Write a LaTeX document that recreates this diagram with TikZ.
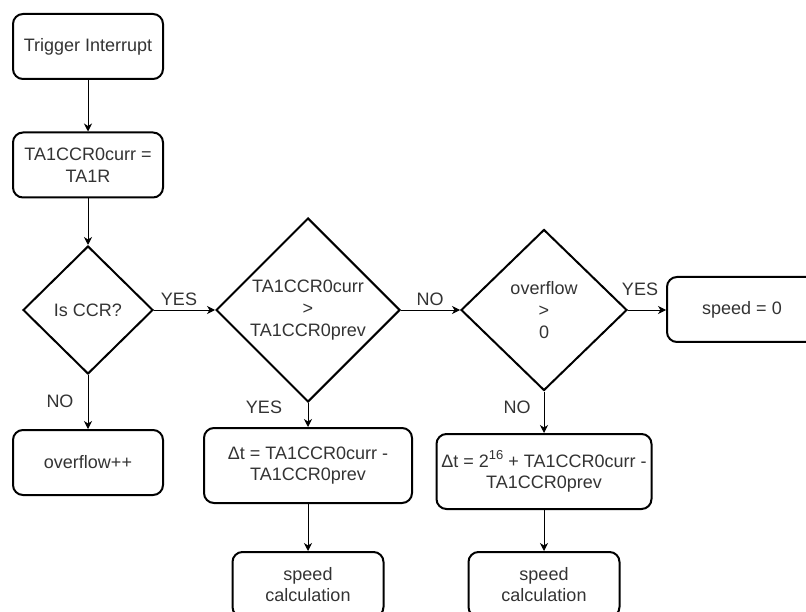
\documentclass[tikz,border=0pt]{standalone}
\usepackage{fontspec}
\setmainfont{Liberation Sans}
\usetikzlibrary{shapes.geometric,arrows.meta}
\definecolor{txt}{HTML}{333333}
\newcommand{\supnum}[1]{\raisebox{0.42em}{\fontsize{13}{13}\selectfont #1}}
\begin{document}
\begin{tikzpicture}[x=1pt,y=-1pt,
  font=\fontsize{18}{21.6}\selectfont,
  every node/.style={text=txt},
  stepbox/.style={draw=black,line width=2pt,rectangle,rounded corners=10pt,
    inner sep=0pt,align=center},
  decision/.style={draw=black,line width=2pt,diamond,inner sep=0pt,align=center},
  flow/.style={draw=black,line width=0.9pt,-{Stealth[length=8pt,width=8pt,inset=2.5pt]}},
  lbl/.style={inner sep=0pt}]
\useasboundingbox (0,0) rectangle (806,612);
\clip (0,0) rectangle (806,612);

% left column
\node[stepbox,minimum width=150pt,minimum height=65pt] (trig) at (88,46.5) {Trigger Interrupt};
\node[stepbox,minimum width=150pt,minimum height=65pt] (assign) at (88,165) {TA1CCR0curr =\\TA1R};
\node[decision,minimum width=130pt,minimum height=128pt] (isccr) at (88,310) {Is CCR?};
\node[stepbox,minimum width=150pt,minimum height=65pt] (ovf) at (88,462.5) {overflow++};

% middle column
\node[decision,minimum width=184pt,minimum height=184pt] (cmp) at (308,310) {TA1CCR0curr\\>\\TA1CCR0prev};
\node[stepbox,minimum width=208pt,minimum height=75pt] (dt1) at (308,465.5) {Δt = TA1CCR0curr -\\TA1CCR0prev};
\node[stepbox,minimum width=151pt,minimum height=65pt] (sc1) at (308,584.5) {speed\\calculation};

% right column
\node[decision,minimum width=166pt,minimum height=161pt] (ovgt) at (544,310) {overflow\\>\\0};
\node[stepbox,minimum width=215pt,minimum height=75pt] (dt2) at (544,471.5)
  {\makebox[200pt][c]{Δt = 2\supnum{16} + TA1CCR0curr -}\\TA1CCR0prev};
\node[stepbox,minimum width=151pt,minimum height=65pt] (sc2) at (544,584.5) {speed\\calculation};
\node[stepbox,minimum width=150pt,minimum height=65pt] (sp0) at (742,309.5) {speed = 0};

% connectors
\draw[flow] (trig) -- (assign);
\draw[flow] (assign) -- (isccr);
\draw[flow] (isccr.east) -- (cmp.west);
\draw[flow] (isccr.south) -- (ovf.north);
\draw[flow] (cmp.east) -- (ovgt.west);
\draw[flow] (cmp.south) -- (dt1.north);
\draw[flow] (ovgt.east) -- (ovgt.east -| sp0.west);
\draw[flow] (ovgt.south) -- (dt2.north);
\draw[flow] (dt1.south) -- (sc1.north);
\draw[flow] (dt2.south) -- (sc2.north);

% branch labels
\node[lbl] (yes1) at (179,299) {YES};
\node[lbl] (no1) at (60,401) {NO};
\node[lbl] (yes2) at (264,407) {YES};
\node[lbl] (no2) at (430,299) {NO};
\node[lbl] (yes3) at (640,289) {YES};
\node[lbl] (no3) at (517,407) {NO};
\end{tikzpicture}
\end{document}
